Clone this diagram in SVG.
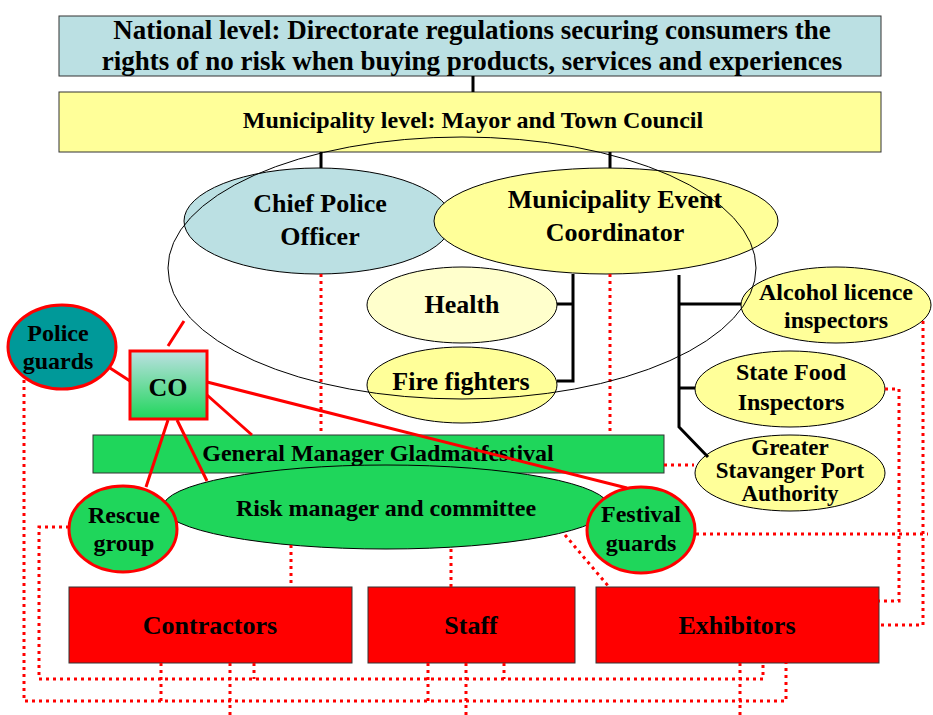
<svg xmlns="http://www.w3.org/2000/svg" width="933" height="715" viewBox="0 0 933 715">
<defs>
<linearGradient id="coGrad" x1="0" y1="0" x2="0" y2="1">
<stop offset="0" stop-color="#bde0e3"/>
<stop offset="1" stop-color="#1fd65b"/>
</linearGradient>
<style>
text{font-family:"Liberation Serif","Times New Roman",serif;font-weight:bold;fill:#000;text-anchor:middle}
.f27{font-size:27px}.f26{font-size:26px}.f24{font-size:24px}.f23{font-size:23px}
.box{stroke:#333;stroke-width:1}
.blue{fill:#bbe0e3}.yel{fill:#ffff99}.pale{fill:#ffffcc}.grn{fill:#1fd65b}.red{fill:#ff0000}.teal{fill:#009999}
.el{stroke:#000;stroke-width:1}
.redb{stroke:#ff0000;stroke-width:3}
.blk{stroke:#000;stroke-width:3;fill:none}
.sol{stroke:#ff0000;stroke-width:3;fill:none}
.dot{stroke:#ff0000;stroke-width:3;stroke-dasharray:3 4;fill:none}
</style>
</defs>
<rect width="933" height="715" fill="#fff"/>

<g id="national">
<rect class="box blue" x="59" y="16" width="822" height="60"/>
<text class="f27" x="472" y="39">National level: Directorate regulations securing consumers the</text>
<text class="f27" x="472" y="70">rights of no risk when buying products, services and experiences</text>
</g>
<g id="municipality">
<rect class="box yel" x="59" y="92" width="822" height="60"/>
<text class="f24" x="473" y="128">Municipality level: Mayor and Town Council</text>
</g>
<g id="chief-police">
<ellipse class="el blue" cx="318" cy="221" rx="134" ry="53"/>
<text class="f26" x="320" y="212">Chief Police</text>
<text class="f26" x="320" y="245">Officer</text>
</g>
<g id="event-coordinator">
<ellipse class="el yel" cx="606" cy="221" rx="172" ry="53"/>
<text class="f26" x="615" y="208">Municipality Event</text>
<text class="f26" x="615" y="241">Coordinator</text>
</g>
<g id="health">
<ellipse class="el pale" cx="462" cy="305" rx="95" ry="38"/>
<text class="f26" x="462" y="313">Health</text>
</g>
<g id="fire-fighters">
<ellipse class="el yel" cx="462" cy="385" rx="95" ry="38"/>
<text class="f26" x="461" y="390">Fire fighters</text>
</g>
<g id="alcohol">
<ellipse class="el yel" cx="836" cy="305" rx="95" ry="38"/>
<text class="f24" x="836" y="300">Alcohol licence</text>
<text class="f24" x="836" y="328">inspectors</text>
</g>
<g id="state-food">
<ellipse class="el yel" cx="790" cy="389" rx="95" ry="38"/>
<text class="f24" x="791" y="380">State Food</text>
<text class="f24" x="791" y="410">Inspectors</text>
</g>
<g id="port-authority">
<ellipse class="el yel" cx="790" cy="473" rx="95" ry="38"/>
<text class="f23" x="790" y="455">Greater</text>
<text class="f23" x="790" y="478">Stavanger Port</text>
<text class="f23" x="790" y="501">Authority</text>
</g>
<g id="general-manager">
<rect class="box grn" x="93" y="435" width="571" height="38"/>
<text class="f24" x="378" y="461">General Manager Gladmatfestival</text>
</g>
<g id="risk-manager">
<ellipse class="el grn" cx="386" cy="507" rx="223" ry="42"/>
<text class="f24" x="386" y="516">Risk manager and committee</text>
</g>
<g id="rescue-group">
<ellipse class="redb grn" cx="123" cy="529" rx="54" ry="43"/>
<text class="f24" x="124" y="523">Rescue</text>
<text class="f24" x="124" y="551">group</text>
</g>
<g id="festival-guards">
<ellipse class="redb grn" cx="641" cy="530" rx="54" ry="43"/>
<text class="f24" x="641" y="522">Festival</text>
<text class="f24" x="641" y="551">guards</text>
</g>
<g id="police-guards">
<ellipse class="redb teal" cx="62" cy="347" rx="54" ry="42"/>
<text class="f24" x="58" y="341">Police</text>
<text class="f24" x="58" y="369">guards</text>
</g>
<g id="co">
<rect class="redb" fill="url(#coGrad)" x="130" y="351" width="77" height="68"/>
<text class="f26" x="168" y="396">CO</text>
</g>
<g id="contractors">
<rect class="box red" x="69" y="587" width="283" height="76"/>
<text class="f26" x="210" y="634">Contractors</text>
</g>
<g id="staff">
<rect class="box red" x="368" y="587" width="207" height="76"/>
<text class="f26" x="471" y="634">Staff</text>
</g>
<g id="exhibitors">
<rect class="box red" x="596" y="587" width="283" height="76"/>
<text class="f26" x="737" y="634">Exhibitors</text>
</g>

<g id="connectors">
<path class="blk" stroke-width="2" d="M473 76V92"/>
<path class="blk" stroke-width="2.5" d="M321 152V168M610 152V168"/>
<path class="blk" d="M573 274V381H557M557 304H573"/>
<path class="blk" d="M679 275V427L708 457M679 304H741M679 388H695"/>
<path class="sol" d="M168 346L184 321M130 381L110 368M207 382L627 488M207 395L252 435M168 420L146 487M177 420L207 481"/>
<path class="dot" d="M321 274V435M610 274V435M664 465H694"/>
<path class="dot" d="M291 545V587M451 549V587M565 535L609 587"/>
<path class="dot" d="M696 534H928M885 389H899V601H879M923 321V625H879"/>
<path class="dot" d="M24 380V701H786V663M69 527H39V679H763V663"/>
<path class="dot" d="M161 663V701M230 663V715M254 663V679M428 663V701M466 663V715M504 663V679M740 663V715"/>
</g>

<g id="boundary">
<ellipse cx="462" cy="268" rx="294" ry="131" fill="none" stroke="#000" stroke-width="1"/>
</g>
</svg>
